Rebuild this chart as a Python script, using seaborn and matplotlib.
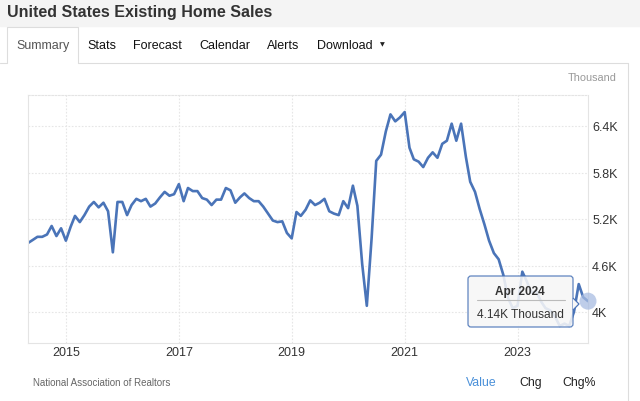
import numpy as np
import pandas as pd
import seaborn as sns
import matplotlib
matplotlib.use("Agg")
import matplotlib.pyplot as plt
from matplotlib.lines import Line2D
from matplotlib.patches import Rectangle, FancyBboxPatch, Polygon
from matplotlib.transforms import IdentityTransform


'''
Data (read off the chart, thousands, monthly)
'''

months = pd.date_range("2014-05-01", "2024-04-01", freq="MS")

sales = [
    4.89, 4.93, 4.97, 4.97, 5.00, 5.11, 4.98, 5.08,                    # 2014 May-Dec
    4.92, 5.10, 5.24, 5.16, 5.25, 5.36, 5.42, 5.35, 5.41, 5.30, 4.77, 5.42,  # 2015
    5.42, 5.25, 5.38, 5.46, 5.43, 5.46, 5.36, 5.40, 5.48, 5.55, 5.50, 5.52,  # 2016
    5.65, 5.43, 5.60, 5.56, 5.56, 5.47, 5.45, 5.38, 5.45, 5.45, 5.60, 5.57,  # 2017
    5.41, 5.48, 5.53, 5.47, 5.43, 5.43, 5.36, 5.27, 5.18, 5.16, 5.17, 5.02,  # 2018
    4.95, 5.29, 5.24, 5.32, 5.44, 5.38, 5.41, 5.46, 5.30, 5.27, 5.25, 5.43,  # 2019
    5.34, 5.63, 5.37, 4.62, 4.08, 4.95, 5.95, 6.03, 6.33, 6.55, 6.46, 6.51,  # 2020
    6.58, 6.12, 5.97, 5.94, 5.87, 5.99, 6.06, 5.99, 6.17, 6.21, 6.43, 6.21,  # 2021
    6.43, 6.00, 5.68, 5.55, 5.33, 5.13, 4.92, 4.76, 4.68, 4.48, 4.18, 4.05,  # 2022
    4.08, 4.52, 4.40, 4.25, 4.27, 4.14, 4.05, 4.02, 3.94, 3.82, 3.85, 3.82,  # 2023
    4.00, 4.36, 4.19, 4.14,                                            # 2024 Jan-Apr
]

year_ticks = ["2015", "2017", "2019", "2021", "2023"]
value_ticks = [4.0, 4.6, 5.2, 5.8, 6.4]
value_labels = ["4K", "4.6K", "5.2K", "5.8K", "6.4K"]

title = "United States Existing Home Sales"
tabs = ["Summary", "Stats", "Forecast", "Calendar", "Alerts", "Download"]
tab_x = [16, 87, 133, 199, 267, 317]
source = "National Association of Realtors"
switches = ["Value", "Chg", "Chg%"]
switch_x = [466, 519, 562]

line_c = "#4a74b8"
W, H = 640, 402

sns.set_theme(style="white")
plt.rcParams["font.family"] = ["Liberation Sans", "DejaVu Sans"]

fig = plt.figure(figsize=(W / 100, H / 100), dpi=100)
fig.patch.set_facecolor("white")


def fx(x):
    return x / W


def fy(y):
    return 1 - y / H


# header band + tabs
fig.add_artist(Rectangle((0, fy(27)), 1, 27 / H, transform=fig.transFigure,
                         color="#f4f4f4", zorder=-5))
fig.text(fx(7), fy(13), title, fontsize=11.5, weight="bold", color="#333333",
         va="center")
for i, (lab, x) in enumerate(zip(tabs, tab_x)):
    fig.text(fx(x), fy(46), lab, fontsize=9, va="center",
             color="#555555" if i == 0 else "#111111")
fig.text(fx(380), fy(45), "\u25bc", fontsize=4.5, va="center", color="#222222",
         family="DejaVu Sans")

border = "#dddddd"
for xs, ys in [([0, 7, 7, 78, 78, 628], [64, 64, 28, 28, 64, 64]),
               ([628, 628], [64, 402])]:
    fig.add_artist(Line2D([fx(v) for v in xs], [fy(v) for v in ys],
                          transform=fig.transFigure, color=border, lw=0.8))

# main chart
ax = fig.add_axes([fx(28), fy(344), (588 - 28) / W, (344 - 96) / H])
sns.lineplot(x=months, y=sales, ax=ax, color=line_c, linewidth=1.9,
             solid_joinstyle="round", solid_capstyle="round")
ax.scatter([months[-1]], [sales[-1]], s=150, color="#a9bde2", alpha=0.75,
           edgecolor="none", zorder=4, clip_on=False)

ax.set_xlim(months[0], months[-1])
ax.set_ylim(3.60, 6.80)
ax.set_xticks([pd.Timestamp(f"{y}-01-01") for y in year_ticks])
ax.set_xticklabels(year_ticks)
ax.set_yticks(value_ticks)
ax.set_yticklabels(value_labels)
ax.yaxis.tick_right()
ax.tick_params(axis="y", length=0, pad=3, labelsize=9, labelcolor="#333333")
ax.tick_params(axis="x", length=0, pad=2.5, labelsize=9, labelcolor="#333333")
ax.set_xlabel("")
ax.set_ylabel("")
ax.grid(True, color="#e6e6e6", linestyle=(0, (1.5, 1.5)), linewidth=0.8)
for side, sp in ax.spines.items():
    sp.set_color("#e4e4e4")
    sp.set_linewidth(0.8)
ax.spines["top"].set_linestyle((0, (1.5, 1.5)))

fig.text(fx(617), fy(78), "Thousand", ha="right", va="center", fontsize=7.8,
         color="#999999")

# tooltip
tf = IdentityTransform()
fig.add_artist(FancyBboxPatch((468, H - 328), 105, 51,
                              boxstyle="round,pad=0,rounding_size=3",
                              transform=tf, facecolor="#f7f7f7", alpha=0.88,
                              edgecolor=line_c, lw=0.9, zorder=5))
fig.add_artist(Polygon([(573, H - 299), (579, H - 305), (573, H - 311)],
                       closed=False, transform=tf, facecolor="#f7f7f7",
                       edgecolor=line_c, lw=0.9, zorder=5))
fig.add_artist(Line2D([fx(477), fx(565)], [fy(301), fy(301)],
                      transform=fig.transFigure, color="#bbbbbb", lw=0.8,
                      zorder=6))
fig.text(fx(520), fy(292), months[-1].strftime("%b %Y"), ha="center",
         va="center", fontsize=8.5, weight="bold", color="#333333", zorder=6)
fig.text(fx(520), fy(315), f"{sales[-1]:.2f}K Thousand", ha="center",
         va="center", fontsize=8.6, color="#333333", zorder=6)

# footer
fig.text(fx(33), fy(383), source, fontsize=7, va="center", color="#666666")
for lab, x in zip(switches, switch_x):
    fig.text(fx(x), fy(383), lab, fontsize=8.8, va="center",
             color="#4a90d9" if lab == "Value" else "#222222")

fig.savefig("out.png", dpi=100)
